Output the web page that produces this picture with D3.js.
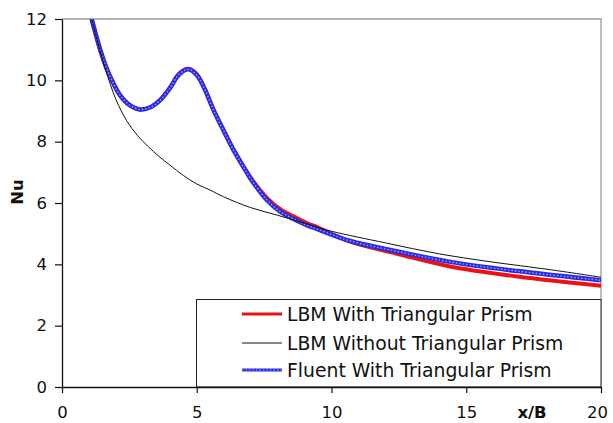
<!DOCTYPE html>
<html>
<head>
<meta charset="utf-8">
<script src="https://cdn.jsdelivr.net/npm/d3@7"></script>
<style>
  html, body { margin: 0; padding: 0; background: #fff; }
  svg { display: block; }
  text { font-family: "DejaVu Sans", Arial, sans-serif; }
</style>
</head>
<body>
<div id="plot"></div>
<script>
// chart data
const xTicks = [0, 5, 10, 15, 20];
const yTicks = [0, 2, 4, 6, 8, 10, 12];
const seriesNames = ["LBM With Triangular Prism", "LBM Without Triangular Prism", "Fluent With Triangular Prism"];

const lbmWithX  = [1.1, 1.4, 1.65, 1.85, 2.15, 2.5, 2.9, 3.3, 3.65, 4.0, 4.35, 4.7, 5.0, 5.3, 5.6, 6.0, 6.35, 6.75, 7.1, 7.6, 8.1, 8.6, 9.1, 9.5, 10.7, 12.5, 14.4, 16.9, 20];
const lbmWithNu = [12.0, 11.05, 10.4, 10.0, 9.52, 9.2, 9.05, 9.13, 9.37, 9.76, 10.22, 10.38, 10.2, 9.72, 9.09, 8.37, 7.77, 7.17, 6.7, 6.17, 5.8, 5.56, 5.34, 5.2, 4.74, 4.33, 3.93, 3.6, 3.3];

const lbmWithoutX  = [1.1, 1.3, 1.5, 1.7, 1.9, 2.1, 2.4, 2.8, 3.2, 3.6, 4.0, 4.5, 5.0, 5.5, 6.0, 7.0, 8.0, 9.0, 10, 12, 14, 16, 18, 20];
const lbmWithoutNu = [12.0, 11.33, 10.7, 10.12, 9.6, 9.18, 8.68, 8.2, 7.84, 7.52, 7.24, 6.9, 6.62, 6.42, 6.2, 5.85, 5.6, 5.34, 5.08, 4.7, 4.34, 4.07, 3.84, 3.58];

const fluentX  = [1.1, 1.4, 1.65, 1.85, 2.15, 2.5, 2.9, 3.3, 3.65, 4.0, 4.35, 4.7, 5.0, 5.3, 5.6, 6.0, 6.35, 6.75, 7.1, 7.6, 8.1, 8.6, 9.1, 9.5, 10.7, 12.5, 14.4, 16.9, 20];
const fluentNu = [12.0, 11.05, 10.4, 10.0, 9.52, 9.2, 9.05, 9.13, 9.36, 9.74, 10.2, 10.36, 10.17, 9.7, 9.07, 8.35, 7.75, 7.15, 6.66, 6.1, 5.72, 5.48, 5.27, 5.14, 4.76, 4.41, 4.08, 3.78, 3.48];

const W = 613, H = 423;
const margin = { top: 19, right: 12, bottom: 36, left: 62 };

const svg = d3.select('#plot').append('svg')
  .attr('width', W)
  .attr('height', H);

const x = d3.scaleLinear().domain([0, 20]).range([margin.left, W - margin.right]);
const y = d3.scaleLinear().domain([0, 12]).range([H - margin.bottom, margin.top]);

// plot area border (gray top + right)
svg.append('path')
  .attr('d', `M${x(0)},${y(12)}H${x(20)}V${y(0)}`)
  .attr('fill', 'none')
  .attr('stroke', '#9a9a9a')
  .attr('stroke-width', 1.3);

svg.append('clipPath')
  .attr('id', 'clip')
  .append('rect')
    .attr('x', x(0))
    .attr('y', y(12))
    .attr('width', x(20) - x(0))
    .attr('height', y(0) - y(12));

const plotArea = svg.append('g').attr('clip-path', 'url(#clip)');

const line = d3.line()
  .x(d => x(d[0]))
  .y(d => y(d[1]))
  .curve(d3.curveCatmullRom.alpha(0.5));

const lbmWith = lbmWithX.map((v, i) => [v, lbmWithNu[i]]);
const lbmWithout = lbmWithoutX.map((v, i) => [v, lbmWithoutNu[i]]);
const fluent = fluentX.map((v, i) => [v, fluentNu[i]]);

// red LBM with prism
plotArea.append('path')
  .datum(lbmWith)
  .attr('fill', 'none')
  .attr('stroke', '#ee1111')
  .attr('stroke-width', 4)
  .attr('d', line);

// blue Fluent (marker-ish line)
plotArea.append('path')
  .datum(fluent)
  .attr('fill', 'none')
  .attr('stroke', '#2a2ae6')
  .attr('stroke-width', 4.5)
  .attr('d', line);

plotArea.append('path')
  .datum(fluent)
  .attr('fill', 'none')
  .attr('stroke', '#9aa0f5')
  .attr('stroke-width', 1.4)
  .attr('stroke-dasharray', '1.5 2')
  .attr('d', line);

// black LBM without prism
plotArea.append('path')
  .datum(lbmWithout)
  .attr('fill', 'none')
  .attr('stroke', '#111')
  .attr('stroke-width', 1)
  .attr('d', line);

// legend box
const legend = svg.append('g');
legend.append('rect')
  .attr('x', 196.5)
  .attr('y', 299.5)
  .attr('width', x(20) - 196.5)
  .attr('height', y(0) - 299.5)
  .attr('fill', '#fff')
  .attr('stroke', '#222')
  .attr('stroke-width', 1);

const legendY = [314, 343, 370];
const legendStyles = [
  { stroke: '#ee1111', width: 3 },
  { stroke: '#111', width: 1.2 },
  { stroke: '#2a2ae6', width: 3 }
];

seriesNames.forEach((name, i) => {
  legend.append('line')
    .attr('x1', 242).attr('x2', 282)
    .attr('y1', legendY[i]).attr('y2', legendY[i])
    .attr('stroke', legendStyles[i].stroke)
    .attr('stroke-width', legendStyles[i].width);
  if (i === 2) {
    legend.append('line')
      .attr('x1', 242).attr('x2', 282)
      .attr('y1', legendY[i]).attr('y2', legendY[i])
      .attr('stroke', '#9aa0f5')
      .attr('stroke-width', 1)
      .attr('stroke-dasharray', '1.5 2');
  }
  legend.append('text')
    .attr('x', 287)
    .attr('y', legendY[i])
    .attr('dy', '0.36em')
    .attr('font-size', 18.8)
    .attr('fill', '#111')
    .text(name);
});

// axes
const yAxis = d3.axisLeft(y)
  .tickValues(yTicks)
  .tickSize(7)
  .tickSizeOuter(0)
  .tickPadding(8)
  .tickFormat(d3.format('d'));

const xAxis = d3.axisBottom(x)
  .tickValues(xTicks)
  .tickSize(6)
  .tickSizeOuter(0)
  .tickPadding(13)
  .tickFormat(d3.format('d'));

const gy = svg.append('g')
  .attr('transform', `translate(${margin.left},0)`)
  .call(yAxis);

const gx = svg.append('g')
  .attr('transform', `translate(0,${H - margin.bottom})`)
  .call(xAxis);

[gx, gy].forEach(g => {
  g.selectAll('path.domain').attr('stroke', '#111').attr('stroke-width', 1.3);
  g.selectAll('.tick line').attr('stroke', '#111').attr('stroke-width', 1.2);
  g.selectAll('.tick text')
    .attr('font-family', '"DejaVu Sans", Arial, sans-serif')
    .attr('font-size', 16.5)
    .attr('fill', '#111');
});

// last x label sits a bit left of its tick
gx.selectAll('.tick text').filter(d => d === 20).attr('dx', -4);

// axis titles
svg.append('text')
  .attr('x', 532)
  .attr('y', 412)
  .attr('dy', '0.36em')
  .attr('text-anchor', 'middle')
  .attr('font-size', 16.5)
  .attr('font-weight', 'bold')
  .attr('fill', '#111')
  .text('x/B');

svg.append('text')
  .attr('transform', `translate(17,192) rotate(-90)`)
  .attr('dy', '0.36em')
  .attr('text-anchor', 'middle')
  .attr('font-size', 16.5)
  .attr('font-weight', 'bold')
  .attr('fill', '#111')
  .text('Nu');
</script>
</body>
</html>
